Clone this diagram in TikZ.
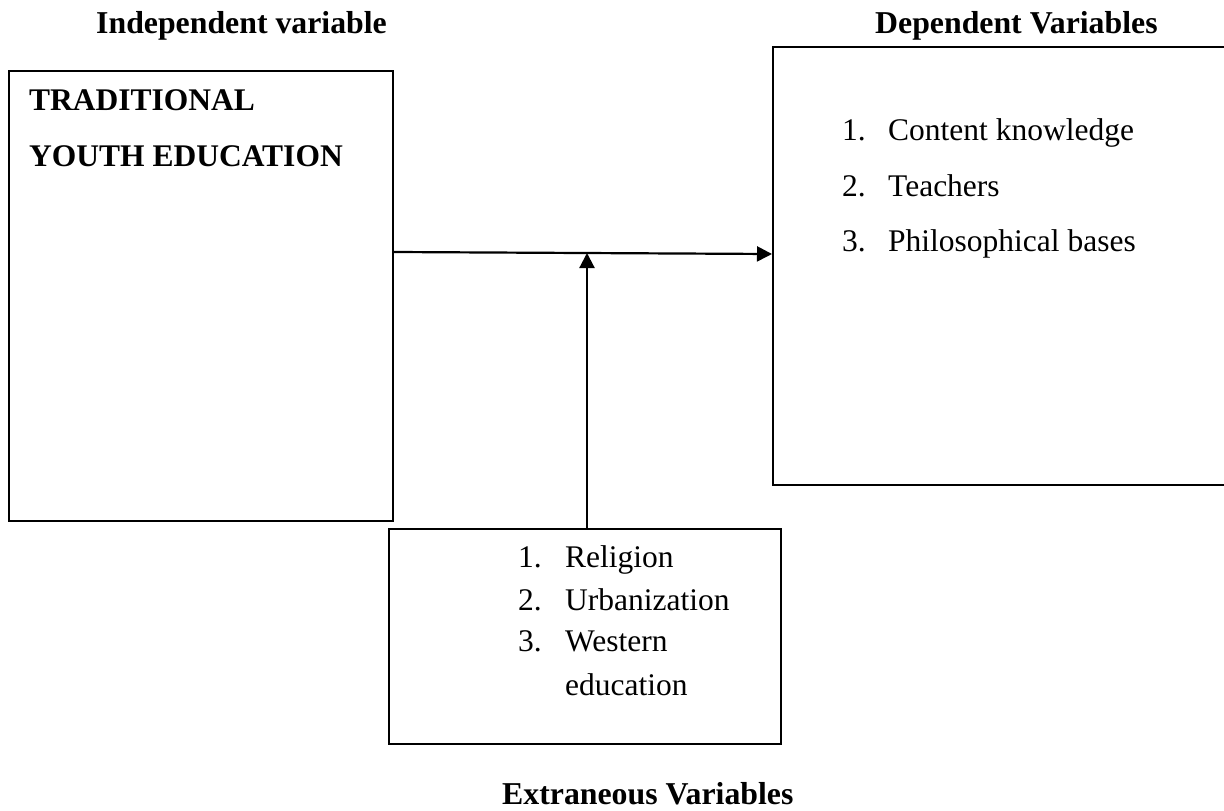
\documentclass[tikz,border=0pt]{standalone}
\usepackage{fontspec}
\setmainfont{Liberation Serif}
\usetikzlibrary{arrows.meta}
\begin{document}
\begin{tikzpicture}[x=1pt,y=-1pt,
  box/.style={draw=black,line width=2.2pt,inner sep=0pt,anchor=north west},
  head/.style={font=\fontsize{31.8}{36}\selectfont\bfseries,inner sep=0pt,anchor=base west},
  item/.style={font=\fontsize{31.5}{36}\selectfont,inner sep=0pt,anchor=base west},
  arr/.style={line width=2.2pt,-{Triangle[length=15pt,width=15pt]}}]
\useasboundingbox (0,0) rectangle (1224,811);
\clip (0,0) rectangle (1224,811);
% boxes
\node[box,minimum width=384pt,minimum height=450pt] (iv) at (8,70) {};
\node[box,minimum width=460pt,minimum height=438pt] (dv) at (772,46) {};
\node[box,minimum width=392pt,minimum height=215pt] (ev) at (388,528) {};
% headings
\node[head] (ivh) at (96,34) {Independent variable};
\node[head] (dvh) at (875,33) {Dependent Variables};
\node[head] (evh) at (502,804) {Extraneous Variables};
% left box text
\node[head,font=\fontsize{31.5}{36}\selectfont\bfseries] (t1) at (29,110) {TRADITIONAL};
\node[head,font=\fontsize{31.5}{36}\selectfont\bfseries] (t2) at (29,166) {YOUTH EDUCATION};
% right box list
\node[item] (d1n) at (842,140) {1.};
\node[item] (d1) at (888,140) {Content knowledge};
\node[item] (d2n) at (842,196) {2.};
\node[item] (d2) at (888,196) {Teachers};
\node[item] (d3n) at (842,251) {3.};
\node[item] (d3) at (888,251) {Philosophical bases};
% bottom box list
\node[item] (e1n) at (518,567) {1.};
\node[item] (e1) at (565,567) {Religion};
\node[item] (e2n) at (518,610) {2.};
\node[item] (e2) at (565,610) {Urbanization};
\node[item] (e3n) at (518,651) {3.};
\node[item] (e3) at (565,651) {Western};
\node[item] (e4) at (565,695) {education};
% connectors
\coordinate (a0) at (iv.north east |- 0,252);
\coordinate (a1) at (dv.north west |- 0,254);
\coordinate (j) at (587,253);
\coordinate (b0) at (587,528);
\draw[arr] (a0) -- (a1);
\draw[arr] (b0) -- (j);
\end{tikzpicture}
\end{document}
